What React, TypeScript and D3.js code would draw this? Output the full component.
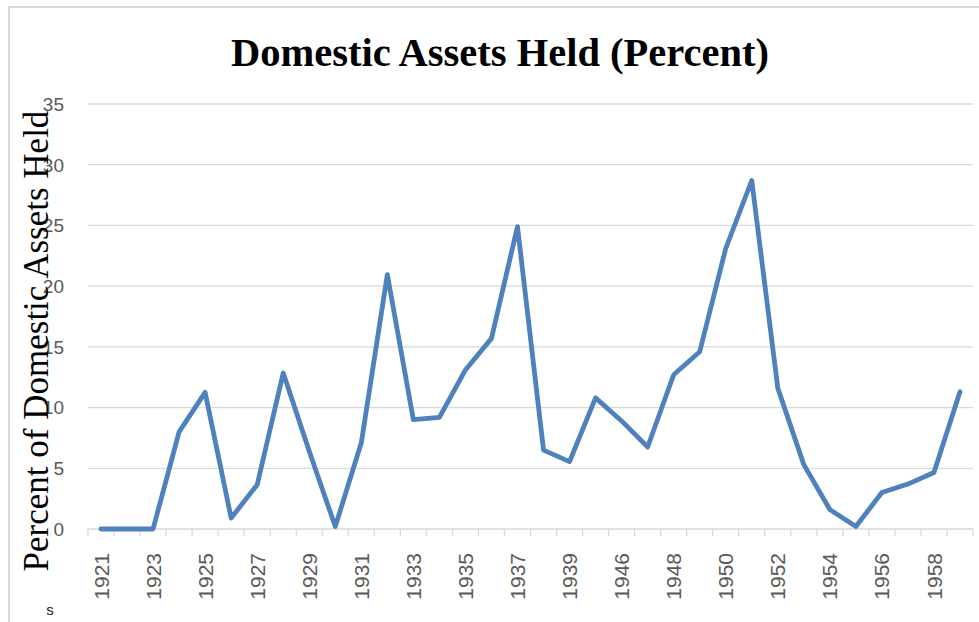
import { useEffect, useRef } from "react";
import * as d3 from "d3";

const years = [
  "1921", "1922", "1923", "1924", "1925", "1926", "1927", "1928", "1929", "1930",
  "1931", "1932", "1933", "1934", "1935", "1936", "1937", "1938", "1939", "1945",
  "1946", "1947", "1948", "1949", "1950", "1951", "1952", "1953", "1954", "1955",
  "1956", "1957", "1958", "1959",
];

const percentHeld = [
  0, 0, 0, 8.0, 11.25, 0.9, 3.65, 12.85, 6.4, 0.2,
  7.1, 20.95, 9.0, 9.2, 13.1, 15.7, 24.9, 6.5, 5.55, 10.8,
  8.9, 6.75, 12.7, 14.6, 23.1, 28.7, 11.6, 5.3, 1.6, 0.2,
  3.0, 3.7, 4.65, 11.3,
];

const yTicks = [0, 5, 10, 15, 20, 25, 30, 35];

const chartTitle = "Domestic Assets Held (Percent)";
const yTitle = "Percent of Domestic Assets Held";

export default function App() {
  const svgRef = useRef<SVGSVGElement>(null);
  const width = 979;
  const height = 622;

  useEffect(() => {
    const svg = svgRef.current;
    if (!svg) return;
    const root = d3.select(svg);
    root.selectAll("*").remove();

    const plot = { left: 88, right: 973, top: 104, bottom: 529 };

    const x = d3.scaleBand<string>().domain(years).range([plot.left, plot.right]);
    const y = d3.scaleLinear().domain([0, 35]).range([plot.bottom, plot.top]);

    // chart border (top + left only visible)
    root.append("path")
      .attr("d", `M9,622 V7 H979`)
      .attr("fill", "none")
      .attr("stroke", "#d9d9d9")
      .attr("stroke-width", 2);

    // gridlines
    root.append("g")
      .selectAll("line")
      .data(yTicks.filter((t) => t > 0))
      .join("line")
      .attr("x1", plot.left)
      .attr("x2", plot.right)
      .attr("y1", (d) => y(d))
      .attr("y2", (d) => y(d))
      .attr("stroke", "#d9d9d9")
      .attr("stroke-width", 1.3);

    // y tick labels
    root.append("g")
      .selectAll("text")
      .data(yTicks)
      .join("text")
      .attr("x", 64)
      .attr("y", (d) => y(d))
      .attr("dy", "0.36em")
      .attr("text-anchor", "end")
      .attr("font-family", "'Liberation Sans', Arial, sans-serif")
      .attr("font-size", 19)
      .attr("fill", "#595959")
      .text((d) => String(d));

    // x axis line + ticks
    const axis = root.append("g");
    axis.append("line")
      .attr("x1", plot.left)
      .attr("x2", plot.right)
      .attr("y1", plot.bottom)
      .attr("y2", plot.bottom)
      .attr("stroke", "#d9d9d9")
      .attr("stroke-width", 1.5);
    const bounds = years.map((yr) => x(yr)!).concat([plot.right]);
    axis.selectAll("line.tick")
      .data(bounds)
      .join("line")
      .attr("class", "tick")
      .attr("x1", (d) => d)
      .attr("x2", (d) => d)
      .attr("y1", plot.bottom)
      .attr("y2", plot.bottom + 7)
      .attr("stroke", "#d9d9d9")
      .attr("stroke-width", 1.3);

    // x labels, every other year
    axis.selectAll("text")
      .data(years.filter((_, i) => i % 2 === 0))
      .join("text")
      .attr("transform", (d) => `translate(${x(d)! + x.bandwidth() / 2},553) rotate(-90)`)
      .attr("dy", "0.36em")
      .attr("text-anchor", "end")
      .attr("font-family", "'Liberation Sans', Arial, sans-serif")
      .attr("font-size", 21)
      .attr("fill", "#595959")
      .text((d) => d);

    // series line
    const line = d3
      .line<number>()
      .x((_, i) => x(years[i])! + x.bandwidth() / 2)
      .y((d) => y(d));

    root.append("path")
      .datum(percentHeld)
      .attr("fill", "none")
      .attr("stroke", "#4f81bd")
      .attr("stroke-width", 4.8)
      .attr("stroke-linejoin", "round")
      .attr("stroke-linecap", "round")
      .attr("d", line);

    // title
    root.append("text")
      .attr("x", 500)
      .attr("y", 66)
      .attr("text-anchor", "middle")
      .attr("font-family", "'Liberation Serif', 'Times New Roman', serif")
      .attr("font-weight", "bold")
      .attr("font-size", 40.5)
      .attr("fill", "#000")
      .text(chartTitle);

    // y axis title
    root.append("text")
      .attr("transform", `translate(48,341) rotate(-90)`)
      .attr("text-anchor", "middle")
      .attr("font-family", "'Liberation Serif', 'Times New Roman', serif")
      .attr("font-size", 35)
      .attr("fill", "#000")
      .text(yTitle);

    root.append("text")
      .attr("x", 50)
      .attr("y", 615)
      .attr("text-anchor", "middle")
      .attr("font-family", "'Liberation Sans', Arial, sans-serif")
      .attr("font-size", 15)
      .attr("fill", "#222")
      .text("s");
  }, []);

  return (
    <svg
      ref={svgRef}
      width={width}
      height={height}
      viewBox={`0 0 ${width} ${height}`}
      style={{ position: "absolute", left: 0, top: 0, background: "#fff" }}
    />
  );
}
